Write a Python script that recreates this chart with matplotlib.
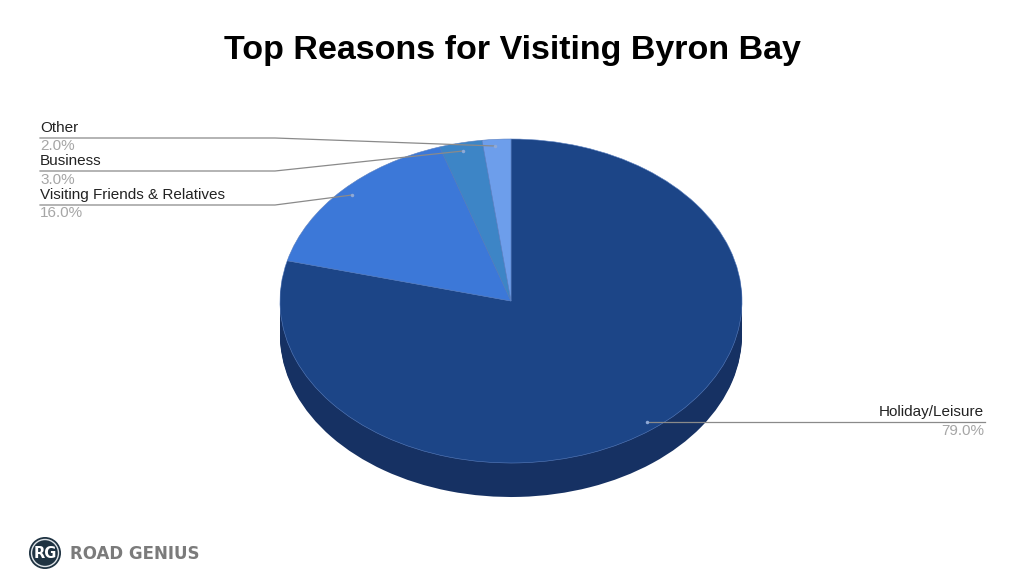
import matplotlib

matplotlib.use("Agg")
import matplotlib.pyplot as plt
from matplotlib.patches import Circle

# data
categories = ["Holiday/Leisure", "Visiting Friends & Relatives", "Business", "Other"]
shares = [79.0, 16.0, 3.0, 2.0]
top_colors = ["#1c4587", "#3c78d8", "#3d85c6", "#6d9eeb"]
side_colors = ["#163163", "#2b5aa6", "#2d6399", "#4f7cc0"]

W, H = 1024, 582
fig = plt.figure(figsize=(W / 100, H / 100), dpi=100)
fig.patch.set_facecolor("white")

# overlay axes in pixel coords for text and leader lines
ov = fig.add_axes([0, 0, 1, 1])
ov.set_xlim(0, W)
ov.set_ylim(H, 0)
ov.axis("off")

# pie axes: ellipse 462 x 324 px, plus ~34 px depth underneath
cx, cy, rx, ry, depth = 511, 301, 231, 162, 34
depth_u = depth / ry
left, right = cx - rx, cx + rx
top, bottom = cy - ry, cy + ry + depth
pax = fig.add_axes([left / W, 1 - bottom / H, (right - left) / W, (bottom - top) / H])
pax.set_zorder(0)
ov.set_zorder(1)
ov.patch.set_alpha(0)

# stack darker copies downward to fake the 3d rim
n_layers = 24
for i in range(n_layers, 0, -1):
    off = -depth_u * i / n_layers
    pax.pie(shares, colors=side_colors, startangle=90, counterclock=False,
            center=(0, off), radius=1, wedgeprops=dict(linewidth=0))
pax.pie(shares, colors=top_colors, startangle=90, counterclock=False,
        center=(0, 0), radius=1,
        wedgeprops=dict(linewidth=0.4, edgecolor="#5a7fbf"))
pax.set_aspect("auto")
pax.set_xlim(-1, 1)
pax.set_ylim(-1 - depth_u, 1)
pax.axis("off")

ov.text(W / 2, 50, "Top Reasons for Visiting Byron Bay", ha="center", va="center",
        fontsize=24.5, fontweight="bold", family="Liberation Sans", color="#000000")

label_kw = dict(fontsize=11, family="Liberation Sans")
line_kw = dict(color="#8a8a8a", linewidth=0.9)

# left-side labels: (name, value, name y, line y, pct y, end point)
left_labels = [
    ("Other", 2.0, 128, 138, 146, (495, 146)),
    ("Business", 3.0, 161, 171, 180, (463, 151)),
    ("Visiting Friends & Relatives", 16.0, 195, 205, 213, (352, 195)),
]
for name, val, ty, ly, py, (ex, ey) in left_labels:
    ov.text(40, ty, name, ha="left", va="center", color="#222222", **label_kw)
    ov.text(40, py, f"{val:.1f}%", ha="left", va="center", color="#a6a6a6", **label_kw)
    ov.plot([40, 275, ex], [ly, ly, ey], **line_kw)
    ov.plot(ex, ey, "o", ms=2.5, color="#8fa9d6", mec="none")

# right label for holiday/leisure
ov.text(984, 412, categories[0], ha="right", va="center", color="#222222", **label_kw)
ov.text(984, 431, f"{shares[0]:.1f}%", ha="right", va="center", color="#a6a6a6", **label_kw)
ov.plot([647, 985], [422, 422], **line_kw)
ov.plot(647, 422, "o", ms=2.5, color="#8fa9d6", mec="none")

# logo
ov.add_patch(Circle((45, 553), 16, facecolor="#1f3342", edgecolor="none"))
ov.add_patch(Circle((45, 553), 13.5, facecolor="none", edgecolor="#dfe4e8", linewidth=1.0))
ov.text(45, 554, "RG", ha="center", va="center", color="white", fontsize=10.5,
        fontweight="bold", family="DejaVu Sans")
ov.text(70, 554, "ROAD GENIUS", ha="left", va="center", color="#7b7b7b",
        fontsize=12, fontweight="bold", family="DejaVu Sans")

fig.savefig("out.png", dpi=100)
